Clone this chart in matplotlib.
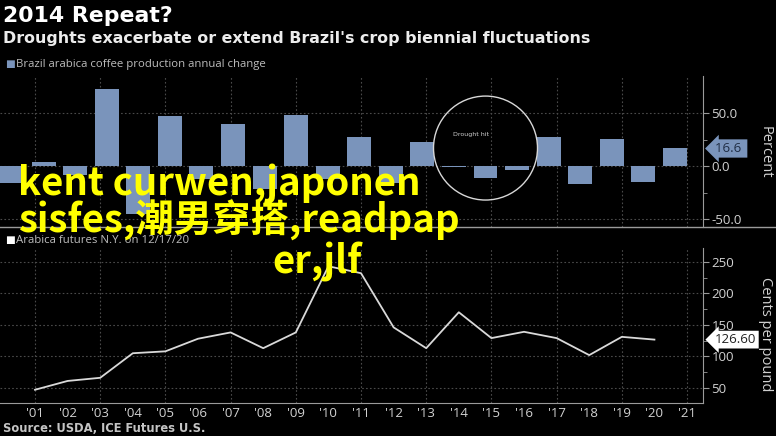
import matplotlib
matplotlib.use('Agg')
import matplotlib.pyplot as plt
import matplotlib.transforms as mtransforms
from matplotlib.patches import Ellipse
from matplotlib.lines import Line2D

# ---------------- data ----------------
bar_years = list(range(2000, 2022))
bar_values = [-16, 3.5, -8.5, 73, -45, 47, -12, 40, -22, 48, -12, 27.5,
              -16, 22.5, -0.8, -11.5, -3.5, 27.5, -16.5, 26, -15.5, 16.6]
price_years = list(range(2001, 2021))
price_values = [47, 61, 66, 105, 108, 128, 138, 113, 138, 243, 232, 146,
                113, 170, 129, 139, 129, 102, 131, 126.6]
xtick_years = list(range(2001, 2022))
xtick_labels = ["'%02d" % (y % 100) for y in xtick_years]
top_yticks = [-50, 0, 50]
top_yticklabels = ['-50.0', '0.0', '50.0']
bot_yticks = [50, 100, 150, 200, 250]
bot_yticklabels = ['50', '100', '150', '200', '250']

title = '2014 Repeat?'
subtitle = "Droughts exacerbate or extend Brazil's crop biennial fluctuations"
legend1 = 'Brazil arabica coffee production annual change'
legend2 = 'Arabica futures N.Y. on 12/17/20'
source = 'Source: USDA, ICE Futures U.S.'
overlay = ['kent curwen,japonen', 'sisfes,潮男穿搭,readpap', 'er,jlf']

BAR = '#7a94bb'
GRID = '#4a4a4a'
TXT = '#d2d2d2'
SPINE = '#9a9a9a'

W, H = 776, 436
fig = plt.figure(figsize=(W / 100, H / 100), dpi=100, facecolor='black')


def rect(x0, y0, x1, y1):
    return [x0 / W, 1 - y1 / H, (x1 - x0) / W, (y1 - y0) / H]


ax1 = fig.add_axes(rect(0, 76, 703, 227))
ax2 = fig.add_axes(rect(0, 248, 703, 403))
for ax in (ax1, ax2):
    ax.set_facecolor('black')
    for s in ax.spines.values():
        s.set_visible(False)
    ax.spines['right'].set_visible(True)
    ax.spines['right'].set_color(SPINE)
    ax.yaxis.tick_right()
    ax.tick_params(axis='y', which='both', direction='out', color=SPINE,
                   labelcolor=TXT, labelsize=9.5, pad=2)
    ax.tick_params(axis='y', which='major', length=4)
    ax.tick_params(axis='y', which='minor', length=3)

# ---------------- top panel ----------------
ax1.set_xlim(1999.62, 2021.89)
ax1.set_ylim(-57.5, 85)
ax1.bar(bar_years, bar_values, width=0.76, color=BAR, zorder=3)
ax1.set_xticks([])
ax1.set_yticks(top_yticks)
ax1.set_yticklabels(top_yticklabels, family='Open Sans')
ax1.set_yticks([-25, 25], minor=True)
for v in top_yticks:
    ax1.axhline(v, color=GRID, lw=0.8, ls=(0, (1.5, 2)), zorder=1)
blend = mtransforms.blended_transform_factory(ax2.transData, ax1.transAxes)
ax1.vlines(xtick_years[::2], 0, 1, transform=blend, color=GRID, lw=0.8,
           ls=(0, (1.5, 2)), zorder=1)

# drought circle annotation (centered on 2015 crop)
ax1.add_patch(Ellipse((2015, 17), width=104 / 31.57, height=104 / 1.06,
                      fill=False, ec='#d8d8d8', lw=1.0, zorder=4))
ax1.text(2014.55, 30, 'Drought hit', color='#cfcfcf', fontsize=4.5,
         ha='center', va='center', zorder=5)

# value tag
tb = mtransforms.blended_transform_factory(ax1.transAxes, ax1.transData)
ax1.text(1.017, bar_values[-1], '%.1f ' % bar_values[-1], transform=tb,
         ha='left', va='center', fontsize=9.5, color='#1f2d44', family='Open Sans',
         bbox=dict(boxstyle='larrow,pad=0.2', fc=BAR, ec='none'),
         clip_on=False, zorder=6)

# ---------------- bottom panel ----------------
ax2.set_xlim(1999.926, 2021.49)
ax2.set_ylim(26, 272)
ax2.plot(price_years, price_values, color='#d9d9d9', lw=1.3, zorder=3)
ax2.spines['bottom'].set_visible(True)
ax2.spines['bottom'].set_color(SPINE)
ax2.set_xticks(xtick_years)
ax2.set_xticklabels(xtick_labels, family='Open Sans')
ax2.tick_params(axis='x', length=0, labelcolor=TXT, labelsize=9.5, pad=3)
ax2.set_yticks(bot_yticks)
ax2.set_yticklabels(bot_yticklabels, family='Open Sans')
ax2.set_yticks([75, 125, 175, 225], minor=True)
for v in bot_yticks:
    ax2.axhline(v, color=GRID, lw=0.8, ls=(0, (1.5, 2)), zorder=1)
for y in xtick_years[::2]:
    ax2.axvline(y, color=GRID, lw=0.8, ls=(0, (1.5, 2)), zorder=1)
tb2 = mtransforms.blended_transform_factory(ax2.transAxes, ax2.transData)
ax2.text(1.017, price_values[-1], '%.2f' % price_values[-1], transform=tb2,
         ha='left', va='center', fontsize=9.5, color='#222222', family='Open Sans',
         bbox=dict(boxstyle='larrow,pad=0.18', fc='white', ec='none'),
         clip_on=False, zorder=6)

# ---------------- figure-level text ----------------
fig.add_artist(Line2D([0, 1], [1 - 227 / H] * 2, color=SPINE, lw=1.0,
                      transform=fig.transFigure))
fig.text(3 / W, 1 - 16 / H, title, color='white', fontsize=15.8,
         fontweight='bold', va='center', ha='left')
fig.text(3 / W, 1 - 39 / H, subtitle, color='#ececec', fontsize=11.4,
         fontweight='bold', va='center', ha='left')
fig.text(5 / W, 1 - 64 / H, '■', color=BAR, fontsize=7.5, va='center', ha='left')
fig.text(16 / W, 1 - 64 / H, legend1, color='#bdbdbd', fontsize=8.2,
         va='center', ha='left', family='Open Sans')
fig.text(5 / W, 1 - 240 / H, '■', color='white', fontsize=7.5, va='center', ha='left')
fig.text(16 / W, 1 - 240 / H, legend2, color='#bdbdbd', fontsize=8.2,
         va='center', ha='left', family='Open Sans')
fig.text(765 / W, 1 - 152 / H, 'Percent', color=TXT, fontsize=10.5,
         rotation=270, va='center', ha='center', family='Open Sans')
fig.text(765 / W, 1 - 334 / H, 'Cents per pound', color=TXT, fontsize=10.5,
         rotation=270, va='center', ha='center', family='Open Sans')
fig.text(3 / W, 1 - 428 / H, source, color='#c4c4c4', fontsize=8.3,
         fontweight='bold', va='center', ha='left')

ov_pos = [(18, 196), (18, 233), (272, 273)]
for (x, y), s in zip(ov_pos, overlay):
    fig.text(x / W, 1 - y / H, s, color='#ffff00', fontsize=27.6,
             family=['Noto Sans CJK SC', 'DejaVu Sans'], fontweight='bold',
             va='baseline', ha='left', zorder=10)

fig.savefig('out.png', dpi=100, facecolor='black')
